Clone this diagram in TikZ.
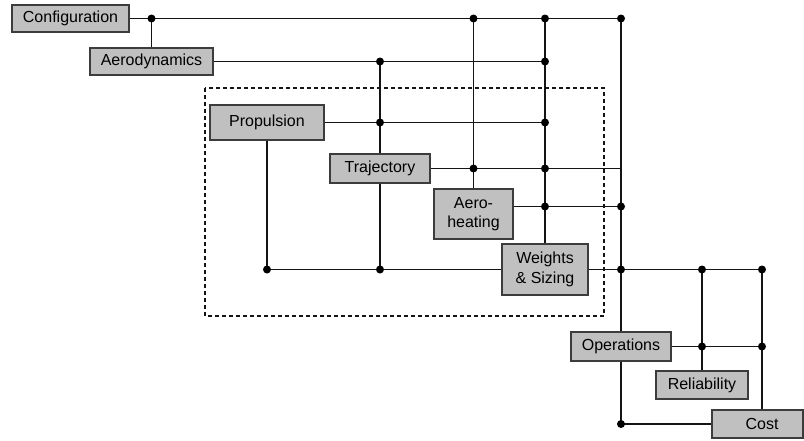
\documentclass[tikz,border=0pt]{standalone}
\usepackage{fontspec}
\setmainfont{Liberation Sans}
\usetikzlibrary{calc}
\definecolor{boxfill}{RGB}{192,192,192}
\definecolor{boxedge}{RGB}{60,60,60}
\definecolor{wire}{RGB}{20,20,20}
\tikzset{
  module/.style={draw=boxedge, fill=boxfill, line width=1.3pt, inner sep=0pt,
    align=center, font=\fontsize{16}{19.5}\selectfont},
  link/.style={draw=wire, line width=1.6pt},
  trunk/.style={draw=wire, line width=2.1pt},
  joint/.style={fill=black, circle, inner sep=0pt, minimum size=8pt},
  region/.style={draw=wire, line width=1.2pt, dash pattern=on 4pt off 3pt}
}
\begin{document}
\begin{tikzpicture}[x=1pt, y=-1pt]
\useasboundingbox (0,0) rectangle (804,440);

% subsystem group
\draw[region] (205,88) rectangle (604,316);

% disciplines
\node[module, minimum width=117pt, minimum height=27pt] (conf) at (70.5,18.5) {Configuration};
\node[module, minimum width=123pt, minimum height=27pt] (aero) at (151.5,61.5) {Aerodynamics};
\node[module, minimum width=114pt, minimum height=35pt] (prop) at (267,122.5) {Propulsion};
\node[module, minimum width=100pt, minimum height=29pt] (traj) at (380,168.5) {Trajectory};
\node[module, minimum width=79pt, minimum height=50pt] (heat) at (473.5,214) {Aero-\\heating};
\node[module, minimum width=86pt, minimum height=51pt] (ws) at (545,269.5) {Weights\\\& Sizing};
\node[module, minimum width=100pt, minimum height=29pt] (ops) at (621,346.5) {Operations};
\node[module, minimum width=92pt, minimum height=28pt] (rel) at (702,385) {Reliability};
\node[module, minimum width=91pt, minimum height=28pt] (cost) at (757.5,424) {\hspace*{9pt}Cost};

% helper points
\coordinate (hx) at ($(heat.east)+(0,-7.5)$);
\coordinate (cx) at (762,0);
\coordinate (cj) at (cx |- ws.east);

% top bus from Configuration
\draw[link] (conf.east) -- (conf.east -| ops.north) -- (ops.north);
\draw[link] (aero.north |- conf.east) -- (aero.north);
\draw[link] (heat.north |- conf.east) -- (heat.north);
\draw[trunk] (ws.north |- conf.east) -- (ws.north);

% Aerodynamics
\draw[link] (aero.east) -- (aero.east -| ws.north);
\draw[link] (traj.north |- aero.east) -- (traj.north);

% Propulsion, Trajectory, Aero-heating outputs
\draw[link] (prop.east) -- (prop.east -| ws.north);
\draw[link] (traj.east) -- (traj.east -| ops.north);
\draw[link] (hx) -- (hx -| ops.north);

% feedback into Weights & Sizing
\draw[link] (prop.south) -- (prop.south |- ws.west) -- (ws.west);
\draw[link] (traj.south) -- (traj.south |- ws.west);

% Weights & Sizing to downstream
\draw[link] (ws.east) -- (cj);
\draw[link] (rel.north |- ws.east) -- (rel.north);
\draw[link] (cj) -- (cj |- cost.north);
\draw[link] (ops.east) -- (ops.east -| cj);
\draw[link] (ops.south) -- (ops.south |- cost.west) -- (cost.west);

% junction dots
\foreach \p in {
  {aero.north |- conf.east}, {heat.north |- conf.east}, {ws.north |- conf.east}, {ops.north |- conf.east},
  {traj.north |- aero.east}, {ws.north |- aero.east},
  {traj.north |- prop.east}, {ws.north |- prop.east},
  {heat.north |- traj.east}, {ws.north |- traj.east},
  {ws.north |- hx}, {ops.north |- hx},
  {prop.south |- ws.west}, {traj.south |- ws.west},
  {ops.north |- ws.east}, {rel.north |- ws.east}, {cj},
  {rel.north |- ops.east}, {cj |- ops.east},
  {ops.south |- cost.west}}
  \node[joint] at (\p) {};
\end{tikzpicture}
\end{document}
